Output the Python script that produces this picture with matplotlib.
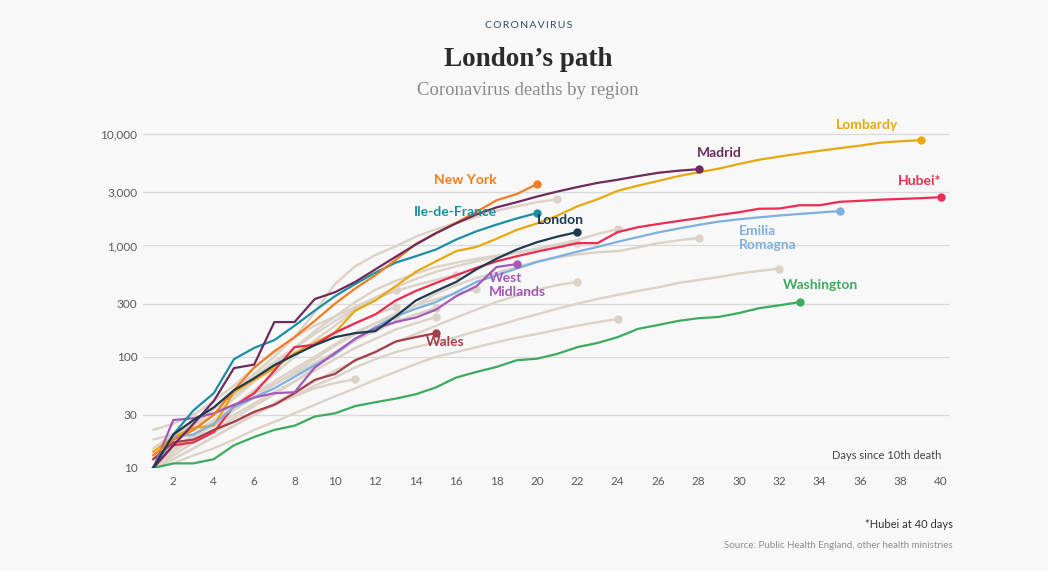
import matplotlib
matplotlib.use("Agg")
import matplotlib.pyplot as plt
from matplotlib.ticker import FixedLocator, FixedFormatter, NullLocator

# deaths by day since 10th death (day 1 = first value)
lombardy = [14, 19, 23, 24, 48, 62, 79, 108, 133, 165, 260, 320, 430, 580, 720, 890, 970,
            1150, 1380, 1580, 1850, 2250, 2600, 3100, 3450, 3800, 4200, 4550, 4900, 5400,
            5900, 6300, 6700, 7100, 7500, 7900, 8400, 8650, 8850]
hubei = [10, 16, 17, 21, 36, 47, 75, 122, 128, 165, 200, 240, 320, 390, 460, 540, 630, 720,
         800, 880, 960, 1050, 1050, 1320, 1460, 1560, 1660, 1760, 1880, 1990, 2140, 2150,
         2300, 2300, 2470, 2520, 2580, 2620, 2660, 2720]
madrid = [10, 16, 25, 40, 79, 85, 205, 205, 330, 380, 470, 610, 790, 1020, 1290, 1580, 1900,
          2200, 2450, 2750, 3050, 3350, 3650, 3900, 4200, 4500, 4700, 4850]
new_york = [13, 18, 22, 30, 50, 80, 112, 150, 210, 300, 410, 540, 740, 1030, 1290, 1600,
            2000, 2550, 2900, 3560]
ile_de_france = [10, 20, 33, 47, 95, 120, 141, 190, 260, 350, 450, 570, 700, 800, 920, 1130,
                 1340, 1540, 1750, 1955]
london = [10, 20, 27, 35, 50, 64, 84, 104, 127, 150, 163, 170, 230, 320, 390, 470, 610, 760,
          920, 1070, 1200, 1320]
emilia = [10, 19, 20, 25, 35, 43, 52, 66, 84, 105, 145, 185, 230, 270, 310, 380, 470, 540,
          620, 710, 790, 880, 970, 1080, 1190, 1310, 1420, 1530, 1640, 1720, 1790, 1860,
          1920, 1980, 2040]
west_midlands = [10, 27, 28, 31, 37, 43, 47, 48, 80, 108, 145, 180, 205, 225, 265, 350, 430,
                 640, 680]
wales = [12, 17, 18, 22, 26, 32, 37, 47, 62, 70, 93, 110, 137, 150, 163]
washington = [10, 11, 11, 12, 16, 19, 22, 24, 29, 31, 36, 39, 42, 46, 53, 65, 73, 81, 93, 96,
              106, 122, 133, 150, 178, 193, 210, 222, 228, 247, 273, 290, 310]

# other regions, drawn in grey
others = [
    [10, 17, 25, 35, 50, 70, 100, 150, 250, 450, 650, 820, 980, 1200, 1400, 1600, 1800, 2050,
     2250, 2450, 2600],
    [12, 17, 22, 30, 42, 60, 85, 120, 170, 230, 310, 400, 480, 560, 640, 700, 760, 810, 870,
     940, 1020, 1120, 1270, 1400],
    [10, 15, 20, 27, 36, 50, 70, 100, 140, 190, 260, 340, 420, 500, 580, 650, 720, 790, 860,
     920, 990, 1060],
    [10, 13, 17, 22, 28, 36, 46, 60, 80, 105, 140, 180, 230, 290, 370, 440, 510, 570, 640,
     720, 780, 830, 870, 890, 960, 1050, 1110, 1170],
    [10, 12, 15, 19, 24, 30, 37, 45, 55, 65, 80, 95, 110, 122, 135, 150, 170, 190, 215, 240,
     270, 300, 330, 360, 390, 420, 460, 490, 520, 560, 590, 620],
    [10, 11, 13, 15, 18, 22, 26, 31, 37, 44, 52, 62, 73, 86, 100, 110, 122, 135, 148, 160,
     175, 190, 205, 218],
    [10, 13, 17, 21, 26, 31, 37, 44, 52, 58, 63],
    [22, 25, 30, 40, 55, 80, 110, 150, 190, 230, 280, 340, 397],
    [15, 20, 26, 35, 45, 60, 80, 105, 130, 160, 200, 240, 280],
    [10, 14, 19, 27, 36, 47, 60, 78, 100, 130, 165, 200, 228],
    [18, 20, 24, 30, 37, 46, 57, 70, 88, 110, 140, 170, 205, 240, 275],
    [12, 15, 19, 24, 30, 38, 48, 60, 75, 95, 120, 145, 175, 200, 228],
    [10, 16, 24, 34, 48, 66, 90, 120, 160, 210, 270, 330, 390, 440, 490, 545],
    [10, 14, 19, 25, 33, 43, 56, 73, 95, 125, 160, 200, 245, 290, 330, 370, 405],
    [10, 12, 15, 19, 24, 30, 38, 48, 60, 75, 92, 112, 135, 160, 190, 225, 265, 310, 355,
     400, 440, 470],
]

highlighted = [
    ("Lombardy", lombardy, "#e8a80c"),
    ("Hubei*", hubei, "#ee2b50"),
    ("Emilia\nRomagna", emilia, "#7cb0e0"),
    ("Washington", washington, "#3bab5d"),
    ("Wales", wales, "#a43e4a"),
    ("West\nMidlands", west_midlands, "#a458b8"),
    ("Ile-de-France", ile_de_france, "#1a8fa3"),
    ("New York", new_york, "#f57c1f"),
    ("Madrid", madrid, "#6d2a5c"),
    ("London", london, "#1d3a4e"),
]

# label anchor (day, deaths, horizontal alignment)
label_pos = {
    "Lombardy": (34.8, 12000, "left"),
    "Hubei*": (40.0, 3800, "right"),
    "Emilia\nRomagna": (30.0, 1170, "left"),
    "Washington": (32.2, 440, "left"),
    "Wales": (14.5, 136, "left"),
    "West\nMidlands": (17.6, 440, "left"),
    "Ile-de-France": (18.0, 2000, "right"),
    "New York": (18.0, 3870, "right"),
    "Madrid": (27.9, 6750, "left"),
    "London": (20.0, 1690, "left"),
}

bg = "#f8f8f8"
grey = "#dcd2c7"

fig = plt.figure(figsize=(10.48, 5.71), dpi=100, facecolor=bg)
ax = fig.add_axes([0.1365, 0.1804, 0.770, 0.613], facecolor=bg)
ax.set_yscale("log")
ax.set_xlim(0.5, 40.45)
ax.set_ylim(10, 14000)

yt = [10, 30, 100, 300, 1000, 3000, 10000]
ax.yaxis.set_major_locator(FixedLocator(yt))
ax.yaxis.set_major_formatter(FixedFormatter([f"{v:,}" for v in yt]))
ax.yaxis.set_minor_locator(NullLocator())
ax.set_xticks(range(2, 41, 2))
for v in yt:
    ax.axhline(v, color="#dadada", lw=0.9, zorder=0)

for s in ax.spines.values():
    s.set_visible(False)
ax.tick_params(axis="both", length=0, colors="#5a5a5a", labelsize=8.5, pad=6)
for lab in ax.get_xticklabels() + ax.get_yticklabels():
    lab.set_family("Lato")
ax.tick_params(axis="y", pad=4)

for series in others:
    days = range(1, len(series) + 1)
    ax.plot(days, series, color=grey, lw=1.7, solid_capstyle="round",
            solid_joinstyle="round", zorder=1)
    ax.plot(len(series), series[-1], "o", color=grey, ms=5, zorder=1)

for name, series, col in highlighted:
    days = range(1, len(series) + 1)
    ax.plot(days, series, color=col, lw=1.6, solid_joinstyle="round", zorder=3)
    ax.plot(len(series), series[-1], "o", color=col, ms=5, zorder=4)
    lx, ly, ha = label_pos[name]
    ax.text(lx, ly, name, color=col, ha=ha, va="center", fontsize=10,
            fontweight="bold", family="Lato", linespacing=1.25, zorder=5,
            clip_on=False)

ax.text(40.0, 11.5, "Days since 10th death", ha="right", va="bottom",
        fontsize=8, color="#444444", family="Lato")

fig.text(0.504, 0.955, "C O R O N A V I R U S".replace(" ", "\u2009"), ha="center",
         va="center", fontsize=7.5, color="#2d4a66", family="Lato")
fig.text(0.504, 0.896, "London’s path", ha="center", va="center", fontsize=19.5,
         fontweight="bold", color="#2b2b2b", family="Liberation Serif")
fig.text(0.504, 0.842, "Coronavirus deaths by region", ha="center", va="center",
         fontsize=13.5, color="#8a8a8a", family="Liberation Serif")
fig.text(0.909, 0.082, "*Hubei at 40 days", ha="right", va="center", fontsize=8,
         color="#333333", family="Lato")
fig.text(0.909, 0.044, "Source: Public Health England, other health ministries",
         ha="right", va="center", fontsize=7, color="#8c8c8c", family="Lato")

fig.savefig("out.png", dpi=100, facecolor=bg)
